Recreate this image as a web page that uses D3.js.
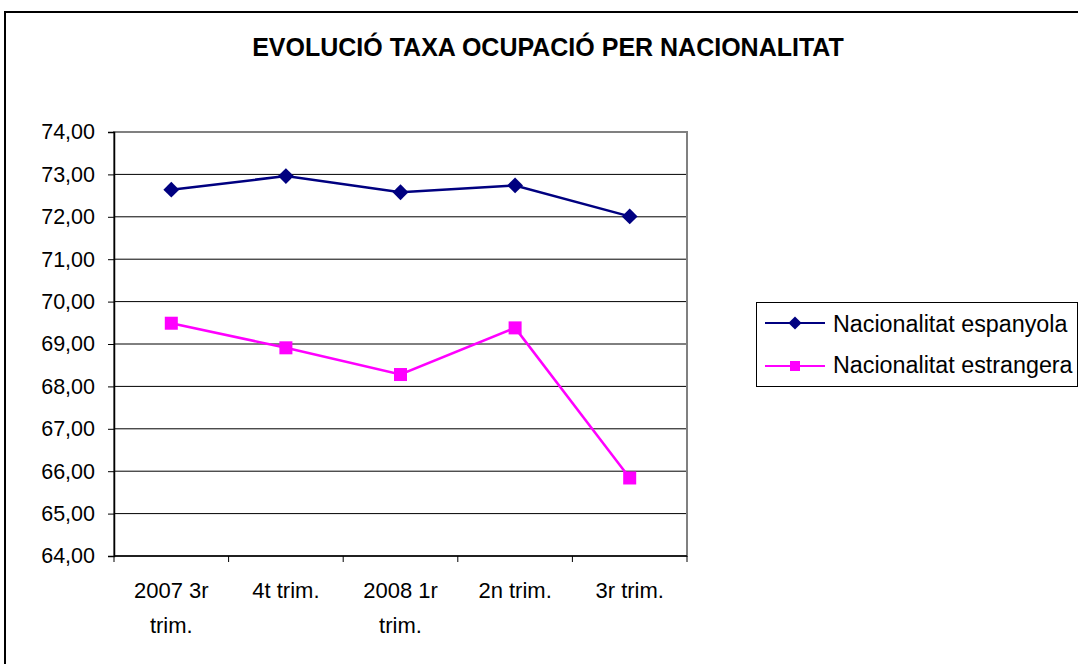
<!DOCTYPE html>
<html>
<head>
<meta charset="utf-8">
<script src="https://cdn.jsdelivr.net/npm/d3@7"></script>
<style>
body{margin:0;background:#fff;}
text{font-family:"Liberation Sans",Arial,sans-serif;}
</style>
</head>
<body>
<div id="chart"></div>
<script>
// dades llegides del grafic
const categories = [["2007 3r","trim."],["4t trim."],["2008 1r","trim."],["2n trim."],["3r trim."]]
const espanyola = [72.64, 72.96, 72.58, 72.74, 72.01]
const estrangera = [69.49, 68.91, 68.28, 69.38, 65.84]
const yTicks = [64,65,66,67,68,69,70,71,72,73,74]
const seriesNames = ["Nacionalitat espanyola","Nacionalitat estrangera"]

const W = 1078, H = 664
const svg = d3.select("#chart").append("svg")
    .attr("width", W)
    .attr("height", H)

// marc exterior
svg.append("rect")
    .attr("x", 5).attr("y", 12)
    .attr("width", W + 20).attr("height", H + 20)
    .attr("fill", "#fff")
    .attr("stroke", "#000")
    .attr("stroke-width", 2)

svg.append("text")
    .attr("x", 548).attr("y", 56)
    .attr("text-anchor", "middle")
    .style("font-size", "25px")
    .style("font-weight", "bold")
    .text("EVOLUCIÓ TAXA OCUPACIÓ PER NACIONALITAT")

const pL = 114, pR = 687, pT = 132, pB = 556

const x = d3.scaleBand().domain(d3.range(categories.length)).range([pL, pR])
const y = d3.scaleLinear().domain([64, 74]).range([pB, pT])

// graella
svg.append("g").selectAll("line")
    .data(yTicks.filter(d => d > 64 && d < 74))
    .enter().append("line")
    .attr("x1", pL).attr("x2", pR)
    .attr("y1", d => y(d)).attr("y2", d => y(d))
    .attr("stroke", "#000").attr("stroke-width", 1)

// vora de l'area
svg.append("rect")
    .attr("x", pL).attr("y", pT)
    .attr("width", pR - pL).attr("height", pB - pT)
    .attr("fill", "none")
    .attr("stroke", "#808080").attr("stroke-width", 2)

// eix Y
const yAxis = svg.append("g")
    .attr("transform", `translate(${pL},0)`)
    .call(d3.axisLeft(y).tickValues(yTicks).tickSize(6).tickPadding(13)
        .tickFormat(d => d3.format(".2f")(d).replace(".", ",")))
yAxis.select(".domain").attr("stroke", "#000").attr("stroke-width", 1.5)
yAxis.selectAll("text").style("font-size", "21.5px").attr("fill", "#000")
    .style("font-family", "'Liberation Sans',Arial,sans-serif")

// eix X
const xAxis = svg.append("g")
    .attr("transform", `translate(0,${pB})`)
xAxis.append("line")
    .attr("x1", pL).attr("x2", pR)
    .attr("stroke", "#000").attr("stroke-width", 1.5)
xAxis.selectAll("line.tk")
    .data(d3.range(categories.length + 1))
    .enter().append("line")
    .attr("class", "tk")
    .attr("x1", i => pL + i * x.step()).attr("x2", i => pL + i * x.step())
    .attr("y1", 0).attr("y2", 6)
    .attr("stroke", "#000")
const lab = xAxis.selectAll("text.lab")
    .data(categories)
    .enter().append("text")
    .attr("class", "lab")
    .attr("text-anchor", "middle")
    .attr("x", (d, i) => x(i) + x.bandwidth() / 2)
    .attr("y", 42)
    .style("font-size", "22px")
lab.selectAll("tspan")
    .data(d => d)
    .enter().append("tspan")
    .attr("x", function () { return d3.select(this.parentNode).attr("x") })
    .attr("dy", (d, i) => i == 0 ? 0 : 35)
    .text(d => d)

const cx = i => x(i) + x.bandwidth() / 2
const line = d3.line().x((d, i) => cx(i)).y(d => y(d))

const diamond = d3.symbol().type(d3.symbolDiamond2).size(160)

// serie espanyola
svg.append("path").datum(espanyola)
    .attr("d", line).attr("fill", "none")
    .attr("stroke", "#000080").attr("stroke-width", 2.5)
svg.append("g").selectAll("path")
    .data(espanyola).enter().append("path")
    .attr("d", diamond)
    .attr("transform", (d, i) => `translate(${cx(i)},${y(d)})`)
    .attr("fill", "#000080")

// serie estrangera
svg.append("path").datum(estrangera)
    .attr("d", line).attr("fill", "none")
    .attr("stroke", "#ff00ff").attr("stroke-width", 2.5)
svg.append("g").selectAll("rect")
    .data(estrangera).enter().append("rect")
    .attr("x", (d, i) => cx(i) - 6.5).attr("y", d => y(d) - 6.5)
    .attr("width", 13).attr("height", 13)
    .attr("fill", "#ff00ff")

// llegenda
const leg = svg.append("g")
leg.append("rect")
    .attr("x", 756.5).attr("y", 302.5)
    .attr("width", 321).attr("height", 84)
    .attr("fill", "#fff").attr("stroke", "#000").attr("stroke-width", 1)
const rowsY = [323, 366]
leg.append("line").attr("x1", 765).attr("x2", 825).attr("y1", rowsY[0]).attr("y2", rowsY[0])
    .attr("stroke", "#000080").attr("stroke-width", 2)
leg.append("path").attr("d", d3.symbol().type(d3.symbolDiamond2).size(110))
    .attr("transform", `translate(795,${rowsY[0]})`).attr("fill", "#000080")
leg.append("line").attr("x1", 765).attr("x2", 825).attr("y1", rowsY[1]).attr("y2", rowsY[1])
    .attr("stroke", "#ff00ff").attr("stroke-width", 2)
leg.append("rect").attr("x", 790).attr("y", rowsY[1] - 5).attr("width", 10).attr("height", 10)
    .attr("fill", "#ff00ff")
leg.selectAll("text.lg")
    .data(seriesNames).enter().append("text")
    .attr("class", "lg")
    .attr("x", 833).attr("y", (d, i) => [332, 373][i])
    .style("font-size", "23.3px")
    .text(d => d)
</script>
</body>
</html>
